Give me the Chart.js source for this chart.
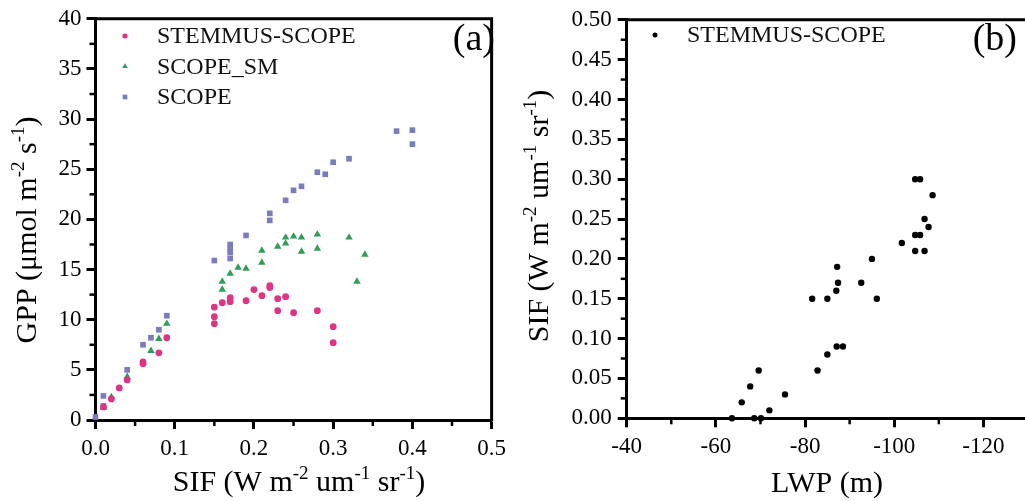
<!DOCTYPE html>
<html>
<head>
<meta charset="utf-8">
<script src="https://cdn.jsdelivr.net/npm/chart.js@4.4.1/dist/chart.umd.min.js"></script>
<style>
html, body { margin: 0; padding: 0; overflow: hidden; background: #fff; width: 1025px; height: 501px; }
#chartA { position: absolute; left: 0; top: 0; }
#chartB { position: absolute; left: 512px; top: 0; }
</style>
</head>
<body>
<canvas id="chartA" width="512" height="501"></canvas>
<canvas id="chartB" width="530" height="501"></canvas>
<script>
// panel (a): GPP vs SIF
const stemSif = [0.01, 0.02, 0.03, 0.04, 0.06, 0.06, 0.08, 0.09, 0.15, 0.15, 0.15, 0.16, 0.17, 0.17, 0.19, 0.20, 0.21, 0.22, 0.22, 0.23, 0.24, 0.23, 0.25, 0.28, 0.30, 0.30];
const stemGpp = [1.3, 2.1, 3.2, 4.0, 5.8, 5.6, 6.7, 8.2, 11.25, 10.3, 9.6, 11.7, 12.2, 11.8, 11.9, 13.0, 12.4, 13.4, 13.2, 12.1, 12.3, 10.9, 10.7, 10.9, 9.3, 7.7];

const smSif = [0.01, 0.02, 0.04, 0.07, 0.08, 0.09, 0.16, 0.16, 0.17, 0.18, 0.19, 0.21, 0.21, 0.23, 0.24, 0.24, 0.25, 0.26, 0.26, 0.28, 0.28, 0.32, 0.33, 0.34];
const smGpp = [1.2, 2.3, 4.3, 6.9, 8.1, 9.6, 13.8, 13.0, 14.6, 15.2, 15.1, 16.9, 15.7, 17.3, 18.2, 17.6, 18.3, 18.2, 16.8, 18.5, 17.1, 18.2, 13.8, 16.5];

const scopeSif = [0.0, 0.01, 0.01, 0.04, 0.06, 0.07, 0.08, 0.09, 0.15, 0.17, 0.17, 0.17, 0.17, 0.19, 0.22, 0.22, 0.24, 0.25, 0.26, 0.28, 0.29, 0.30, 0.32, 0.38, 0.40, 0.40];
const scopeGpp = [0.3, 2.4, 1.4, 5.0, 7.5, 8.2, 9.0, 10.4, 15.9, 17.5, 17.1, 16.7, 16.1, 18.4, 20.6, 19.9, 21.9, 22.9, 23.3, 24.7, 24.5, 25.7, 26.05, 28.8, 28.9, 27.5];

// panel (b): SIF vs LWP
const lwp = [-63.6, -65.8, -67.7, -69.6, -68.6, -70.1, -72.0, -75.5, -81.6, -82.8, -85.0, -85.0, -87.0, -87.2, -87.4, -87.1, -88.5, -92.6, -95.0, -96.1, -101.7, -104.7, -105.8, -104.7, -105.8, -104.7, -106.8, -106.8, -107.7, -108.6];
const lwpSif = [0.00, 0.02, 0.04, 0.06, 0.00, 0.00, 0.01, 0.03, 0.15, 0.06, 0.15, 0.08, 0.16, 0.19, 0.17, 0.09, 0.09, 0.17, 0.20, 0.15, 0.22, 0.30, 0.30, 0.23, 0.23, 0.21, 0.21, 0.25, 0.24, 0.28];

const serif = '"Liberation Serif", "Times New Roman", serif';

function pts(xs, ys) {
    return xs.map((x, i) => ({ x: x, y: ys[i] }));
}

// draws text with superscript parts, centred on (0,0) horizontally, baseline at 0
function drawRich(ctx, parts, size) {
    const supSize = Math.round(size * 0.62);
    let w = 0;
    const segs = parts.map(p => {
        ctx.font = (p[1] ? supSize : size) + 'px ' + serif;
        const m = ctx.measureText(p[0]).width;
        w += m;
        return { t: p[0], sup: p[1], m: m };
    });
    let x = -w / 2;
    segs.forEach(s => {
        ctx.font = (s.sup ? supSize : size) + 'px ' + serif;
        ctx.fillText(s.t, x, s.sup ? -size * 0.4 : 0);
        x += s.m;
    });
}

const sifTitle = [['SIF (W m', 0], ['-2', 1], [' um', 0], ['-1', 1], [' sr', 0], ['-1', 1], [')', 0]];
const gppTitle = [['GPP (\u03bcmol m', 0], ['-2', 1], [' s', 0], ['-1', 1], [')', 0]];

const deco = {
    id: 'deco',
    afterDraw(chart, args, o) {
        const ctx = chart.ctx;
        const a = chart.chartArea;
        const xs = chart.scales.x, ys = chart.scales.y;
        ctx.save();
        ctx.strokeStyle = '#000';
        ctx.lineCap = 'butt';
        // frame top and right
        ctx.lineWidth = 3;
        ctx.beginPath();
        ctx.moveTo(a.left - 1.5, a.top);
        ctx.lineTo(a.right, a.top);
        ctx.lineTo(a.right, a.bottom + 1.5);
        ctx.stroke();
        // minor ticks
        ctx.lineWidth = 2.5;
        const xh = o.xStep / 2, yh = o.yStep / 2;
        for (let k = Math.ceil(xs.min / xh - 1e-6); k <= Math.floor(xs.max / xh + 1e-6); k++) {
            if (Math.abs(k % 2) !== 1) continue;
            const px = xs.getPixelForValue(k * xh);
            ctx.beginPath(); ctx.moveTo(px, a.bottom); ctx.lineTo(px, a.bottom + 6); ctx.stroke();
        }
        for (let k = Math.ceil(ys.min / yh - 1e-6); k <= Math.floor(ys.max / yh + 1e-6); k++) {
            if (Math.abs(k % 2) !== 1) continue;
            const py = ys.getPixelForValue(k * yh);
            ctx.beginPath(); ctx.moveTo(a.left, py); ctx.lineTo(a.left - 6, py); ctx.stroke();
        }
        // axis titles
        ctx.fillStyle = '#000';
        ctx.textAlign = 'left';
        ctx.textBaseline = 'alphabetic';
        ctx.save();
        ctx.translate(o.xTitleX, o.xTitleY);
        drawRich(ctx, o.xTitle, 30);
        ctx.restore();
        ctx.save();
        ctx.translate(o.yTitleX, o.yTitleY);
        ctx.rotate(-Math.PI / 2);
        drawRich(ctx, o.yTitle, 30);
        ctx.restore();
        // panel letter
        ctx.font = '38px ' + serif;
        ctx.textAlign = 'right';
        ctx.textBaseline = 'middle';
        ctx.fillText(o.letter, o.letterX, 40);
        // legend
        ctx.font = '24px ' + serif;
        ctx.textAlign = 'left';
        chart.data.datasets.forEach((d, i) => {
            const y = o.legendY + i * 30.5;
            ctx.fillStyle = d.backgroundColor;
            const st = { pointStyle: d.pointStyle, radius: d.legendRadius, borderWidth: 0, rotation: 0 };
            if (Chart.helpers && Chart.helpers.drawPoint) {
                Chart.helpers.drawPoint(ctx, st, o.legendX, y);
            } else {
                ctx.beginPath(); ctx.arc(o.legendX, y, d.legendRadius, 0, Math.PI * 2); ctx.fill();
            }
            ctx.fillStyle = '#111';
            ctx.fillText(d.label, o.legendX + 32, y + 1);
        });
        ctx.restore();
    }
};

function axisOpts(extra) {
    return Object.assign({
        type: 'linear',
        grid: { drawOnChartArea: false, drawTicks: true, tickLength: 9, tickWidth: 3, tickColor: '#000', color: '#000' },
        border: { display: true, color: '#000', width: 3 },
    }, extra);
}

const pink = '#dd3483';
const green = '#2f9e58';
const purple = '#7b7bbd';

new Chart(document.getElementById('chartA'), {
    type: 'scatter',
    data: {
        datasets: [
            { label: 'STEMMUS-SCOPE', data: pts(stemSif, stemGpp), pointStyle: 'circle', pointRadius: 3.4, backgroundColor: pink, borderWidth: 0, legendRadius: 2.6, clip: false },
            { label: 'SCOPE_SM', data: pts(smSif, smGpp), pointStyle: 'triangle', pointRadius: 4.3, backgroundColor: green, borderWidth: 0, legendRadius: 3.2, clip: false },
            { label: 'SCOPE', data: pts(scopeSif, scopeGpp), pointStyle: 'rect', pointRadius: 4, backgroundColor: purple, borderWidth: 0, legendRadius: 3.3, clip: false }
        ]
    },
    options: {
        responsive: false,
        animation: false,
        layout: { padding: { left: 0, top: 15, right: 14.5, bottom: 0 } },
        plugins: {
            legend: { display: false },
            tooltip: { enabled: false },
            deco: {
                xStep: 0.1, yStep: 5,
                xTitle: sifTitle, xTitleX: 299, xTitleY: 491,
                yTitle: gppTitle, yTitleX: 36, yTitleY: 230,
                letter: '(a)', letterX: 495,
                legendX: 125, legendY: 36
            }
        },
        scales: {
            x: axisOpts({
                min: 0, max: 0.5,
                ticks: { stepSize: 0.1, padding: 6, color: '#000', font: { family: serif, size: 23 }, callback: v => v.toFixed(1) },
                afterFit: s => { s.height = 81; }
            }),
            y: axisOpts({
                min: 0, max: 40,
                ticks: { stepSize: 5, padding: 5, color: '#000', font: { family: serif, size: 23 } },
                afterFit: s => { s.width = 95.5; }
            })
        }
    },
    plugins: [deco]
});

new Chart(document.getElementById('chartB'), {
    type: 'scatter',
    data: {
        datasets: [
            { label: 'STEMMUS-SCOPE', data: pts(lwp, lwpSif), pointStyle: 'circle', pointRadius: 3.2, backgroundColor: '#000', borderWidth: 0, legendRadius: 2.5, clip: false }
        ]
    },
    options: {
        responsive: false,
        animation: false,
        layout: { padding: { left: 0, top: 15.5, right: 14, bottom: 0 } },
        plugins: {
            legend: { display: false },
            tooltip: { enabled: false },
            deco: {
                xStep: 20, yStep: 0.05,
                xTitle: [['LWP (m)', 0]], xTitleX: 315, xTitleY: 492,
                yTitle: sifTitle, yTitleX: 548 - 512, yTitleY: 216,
                letter: '(b)', letterX: 505,
                legendX: 143, legendY: 35
            }
        },
        scales: {
            x: axisOpts({
                min: -130, max: -40, reverse: true,
                ticks: { stepSize: 20, includeBounds: false, padding: 6, autoSkip: false, color: '#000', font: { family: serif, size: 23 }, callback: v => String(Math.round(v)) },
                afterBuildTicks: s => {
                    s.ticks = s.ticks.filter(t => Math.abs(t.value - 20 * Math.round(t.value / 20)) < 1e-6 && t.value > -125 && t.value <= -40);
                },
                afterFit: s => { s.height = 82.7; }
            }),
            y: axisOpts({
                min: 0, max: 0.5,
                ticks: { stepSize: 0.05, padding: 6, color: '#000', font: { family: serif, size: 23 }, callback: v => v.toFixed(2) },
                afterFit: s => { s.width = 114.7; }
            })
        }
    },
    plugins: [deco]
});
</script>
</body>
</html>
